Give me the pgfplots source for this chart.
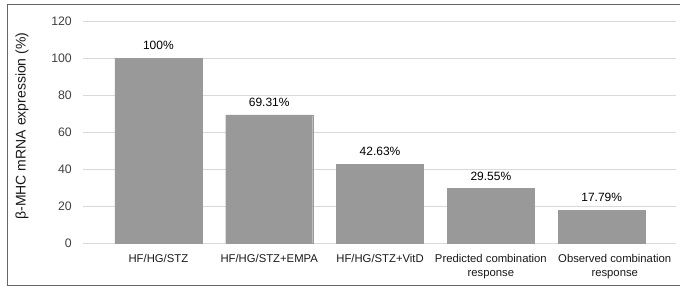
\documentclass[border=0pt]{standalone}
\usepackage{pgfplots}
\pgfplotsset{compat=1.18}
\usepackage{fontspec}
\setmainfont{Liberation Sans}
\definecolor{barc}{HTML}{999999}
\definecolor{gridc}{HTML}{D9D9D9}
\definecolor{tickc}{HTML}{404040}
\begin{document}
\begin{tikzpicture}[x=1pt,y=1pt]
\useasboundingbox (0,0) rectangle (680,290);
\draw[draw=black!60, line width=1pt] (7,5) rectangle (692,285);
\begin{axis}[
  at={(83pt,47pt)}, anchor=south west,
  scale only axis, width=593pt, height=222pt,
  xmin=-0.68, xmax=4.67, ymin=0, ymax=120,
  ytick={0,20,...,120},
  ymajorgrids, grid style={draw=gridc, line width=1pt},
  axis line style={draw=none},
  major tick length=0pt,
  /pgf/number format/assume math mode=true,
  yticklabel style={font=\fontsize{12.3}{14}\selectfont, text=tickc, inner sep=0pt, xshift=-11pt},
  xtick={0,1,2,3},
  xticklabels={HF/HG/STZ, HF/HG/STZ+EMPA, HF/HG/STZ+VitD, Predicted combination\\response},
  xticklabel style={font=\fontsize{11.3}{14}\selectfont, align=center, text=black!90, anchor=north, inner sep=0pt, yshift=-11pt},
  extra x ticks={4},
  extra x tick labels={Observed combination\\response},
  extra x tick style={grid=none, xticklabel style={xshift=13pt}},
  ybar, bar width=87pt,
  point meta=explicit symbolic,
  nodes near coords,
  nodes near coords style={font=\fontsize{12}{14}\selectfont, anchor=south, inner sep=0pt, yshift=8pt, text=black},
  clip=false,
]
\addplot[fill=barc, draw=barc] coordinates {
  (0,100) [100\%]
  (1,69.31) [69.31\%]
  (2,42.63) [42.63\%]
  (3,29.55) [29.55\%]
  (4,17.79) [17.79\%]
};
\end{axis}
\node[rotate=90, font=\fontsize{14}{16}\selectfont, text=black!90] at (22,164) {β-MHC mRNA expression (\%)};
\end{tikzpicture}
\end{document}
